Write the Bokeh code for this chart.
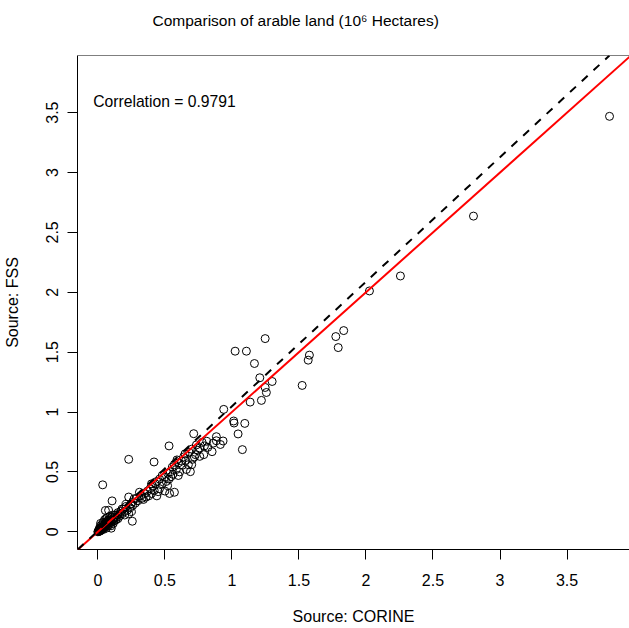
from bokeh.plotting import figure
from bokeh.models import ColumnDataSource, Slope, FixedTicker, Range1d, Span
from bokeh.core.properties import value
from bokeh.embed import file_html
from bokeh.resources import INLINE

# ---- data ----
corine = [
    3.817, 2.802, 2.257, 2.026, 1.834, 1.775, 1.793, 1.578, 1.569, 1.524,
    1.248, 1.024, 1.108, 1.168, 1.208, 1.300, 1.248, 1.257, 1.220, 1.136,
    0.939, 1.013, 1.016, 1.096, 1.046, 1.078,
    0.715, 0.884, 0.884, 0.934, 0.914, 0.778, 0.795, 0.852, 0.790, 0.728,
    0.690, 0.531, 0.735, 0.700, 0.680, 0.655, 0.640, 0.705, 0.760, 0.820,
    0.860, 0.745, 0.720, 0.675, 0.630, 0.600, 0.585, 0.610, 0.560, 0.545,
    0.530, 0.510, 0.500, 0.520, 0.480, 0.460, 0.500, 0.535, 0.571, 0.450,
    0.420, 0.400, 0.440, 0.660, 0.625, 0.590, 0.555, 0.540, 0.760, 0.700,
    0.812, 0.650, 0.570, 0.600, 0.480, 0.520,
    0.419, 0.230, 0.380, 0.360, 0.340, 0.300, 0.320, 0.280, 0.260, 0.270,
    0.240, 0.220, 0.250, 0.230, 0.200, 0.180, 0.190, 0.160, 0.170, 0.150,
    0.257, 0.230, 0.310, 0.350, 0.390, 0.410, 0.430, 0.370, 0.290, 0.210,
    0.200, 0.180, 0.260, 0.330, 0.440, 0.400, 0.460, 0.210, 0.165, 0.245,
    0.036, 0.106, 0.056, 0.080, 0.060, 0.100, 0.140, 0.130, 0.120, 0.110,
    0.100, 0.100, 0.090, 0.080, 0.080, 0.070, 0.060, 0.060, 0.050, 0.050,
    0.040, 0.040, 0.030, 0.030, 0.020, 0.020, 0.010, 0.010, 0.000, 0.005,
    0.015, 0.025, 0.035, 0.045, 0.055, 0.065, 0.075, 0.085, 0.095, 0.120,
    0.135, 0.145, 0.110, 0.070, 0.030, 0.020, 0.012, 0.008, 0.003, 0.018,
    0.028, 0.042, 0.052, 0.062, 0.072, 0.088, 0.098, 0.115, 0.125, 0.150,
    0.040, 0.090, 0.050, 0.020, 0.070,
]
fss = [
    3.469, 2.636, 2.136, 2.011, 1.680, 1.630, 1.538, 1.475, 1.433, 1.222,
    1.613, 1.508, 1.508, 1.405, 1.286, 1.255, 1.205, 1.163, 1.097, 1.083,
    1.022, 0.925, 0.908, 0.905, 0.817, 0.686,
    0.819, 0.794, 0.760, 0.758, 0.729, 0.747, 0.717, 0.669, 0.644, 0.644,
    0.502, 0.717, 0.725, 0.690, 0.665, 0.595, 0.625, 0.605, 0.700, 0.705,
    0.740, 0.680, 0.625, 0.560, 0.555, 0.575, 0.520, 0.500, 0.480, 0.460,
    0.440, 0.420, 0.455, 0.385, 0.400, 0.360, 0.340, 0.320, 0.330, 0.335,
    0.345, 0.320, 0.300, 0.520, 0.590, 0.600, 0.540, 0.500, 0.630, 0.560,
    0.756, 0.650, 0.560, 0.470, 0.470, 0.490,
    0.583, 0.605, 0.300, 0.290, 0.270, 0.260, 0.300, 0.240, 0.220, 0.275,
    0.200, 0.180, 0.170, 0.150, 0.170, 0.150, 0.190, 0.130, 0.170, 0.160,
    0.088, 0.290, 0.330, 0.320, 0.360, 0.380, 0.400, 0.340, 0.280, 0.210,
    0.140, 0.190, 0.250, 0.280, 0.420, 0.400, 0.440, 0.230, 0.150, 0.230,
    0.392, 0.258, 0.178, 0.180, 0.110, 0.030, 0.120, 0.140, 0.110, 0.100,
    0.120, 0.080, 0.090, 0.070, 0.100, 0.060, 0.080, 0.050, 0.060, 0.040,
    0.050, 0.030, 0.040, 0.020, 0.030, 0.010, 0.020, 0.010, 0.000, 0.010,
    0.005, 0.015, 0.025, 0.035, 0.045, 0.070, 0.050, 0.075, 0.100, 0.090,
    0.100, 0.140, 0.140, 0.090, 0.060, 0.050, 0.030, 0.004, 0.002, 0.022,
    0.035, 0.020, 0.070, 0.030, 0.080, 0.060, 0.050, 0.070, 0.120, 0.110,
    0.080, 0.130, 0.100, 0.070, 0.120,
]
tick_values = [0, 0.5, 1, 1.5, 2, 2.5, 3, 3.5]
tick_labels = ["0", "0.5", "1", "1.5", "2", "2.5", "3", "3.5"]
identity_intercept, identity_slope = 0.0, 1.0      # red line
fit_intercept, fit_slope = 0.008, 1.04             # dashed line
correlation_text = "Correlation = 0.9791"
title_text = "Comparison of arable land (10\u2076 Hectares)"
x_title = "Source: CORINE"
y_title = "Source: FSS"

FONT = "Liberation Sans"
X_END, Y_END = 3.966, 3.977

p = figure(width=629, height=628, output_backend="svg", toolbar_location=None,
           x_range=Range1d(-0.152, X_END), y_range=Range1d(-0.148, Y_END),
           min_border_left=77, min_border_right=0, min_border_top=54,
           min_border_bottom=79, x_axis_label=x_title, y_axis_label=y_title)
p.outline_line_color = None
p.xgrid.visible = False
p.ygrid.visible = False
p.background_fill_color = "white"
p.border_fill_color = "white"

# a blank second line lifts the title away from the box
p.title.text = title_text + "\n "
p.title.align = "left"
p.title.offset = 75
p.title.text_font = FONT
p.title.text_font_size = "15.5px"
p.title.text_font_style = "normal"
p.title.text_color = "black"
p.title.vertical_align = "bottom"
p.title.standoff = 19

xax = p.below[0]
yax = p.left[0]
for ax in (xax, yax):
    ax.ticker = FixedTicker(ticks=tick_values)
    ax.major_label_overrides = dict(zip(tick_values, tick_labels))
    ax.axis_line_color = "black"
    ax.axis_line_width = 1
    ax.major_tick_line_color = "black"
    ax.major_tick_out = 10
    ax.major_tick_in = 0
    ax.minor_tick_line_color = None
    ax.major_label_text_font = FONT
    ax.major_label_text_font_size = "16px"
    ax.major_label_text_color = "black"
    ax.axis_label_text_font = FONT
    ax.axis_label_text_font_size = "16px"
    ax.axis_label_text_font_style = "normal"
    ax.axis_label_text_color = "black"
xax.major_label_standoff = 14
xax.axis_label_standoff = 19
yax.major_label_orientation = "parallel"
yax.major_label_standoff = 9
yax.axis_label_standoff = 23

# top border of the plot box
p.add_layout(Span(location=Y_END, dimension="width", line_color="black",
                  line_width=1))

src = ColumnDataSource(data=dict(x=corine, y=fss))
p.scatter(x="x", y="y", source=src, marker="circle", size=8,
          fill_color=None, line_color="black", line_width=1)

p.add_layout(Slope(gradient=identity_slope, y_intercept=identity_intercept,
                   line_color="red", line_width=2))
p.add_layout(Slope(gradient=fit_slope, y_intercept=fit_intercept,
                   line_color="black", line_width=2, line_dash="8 8"))

p.text(x=[-0.035], y=[3.594], text=[correlation_text], text_font=value(FONT),
       text_font_size="15.7px", text_align="left", text_baseline="middle",
       text_color="black")

open("out.html", "w").write(file_html(p, INLINE))
